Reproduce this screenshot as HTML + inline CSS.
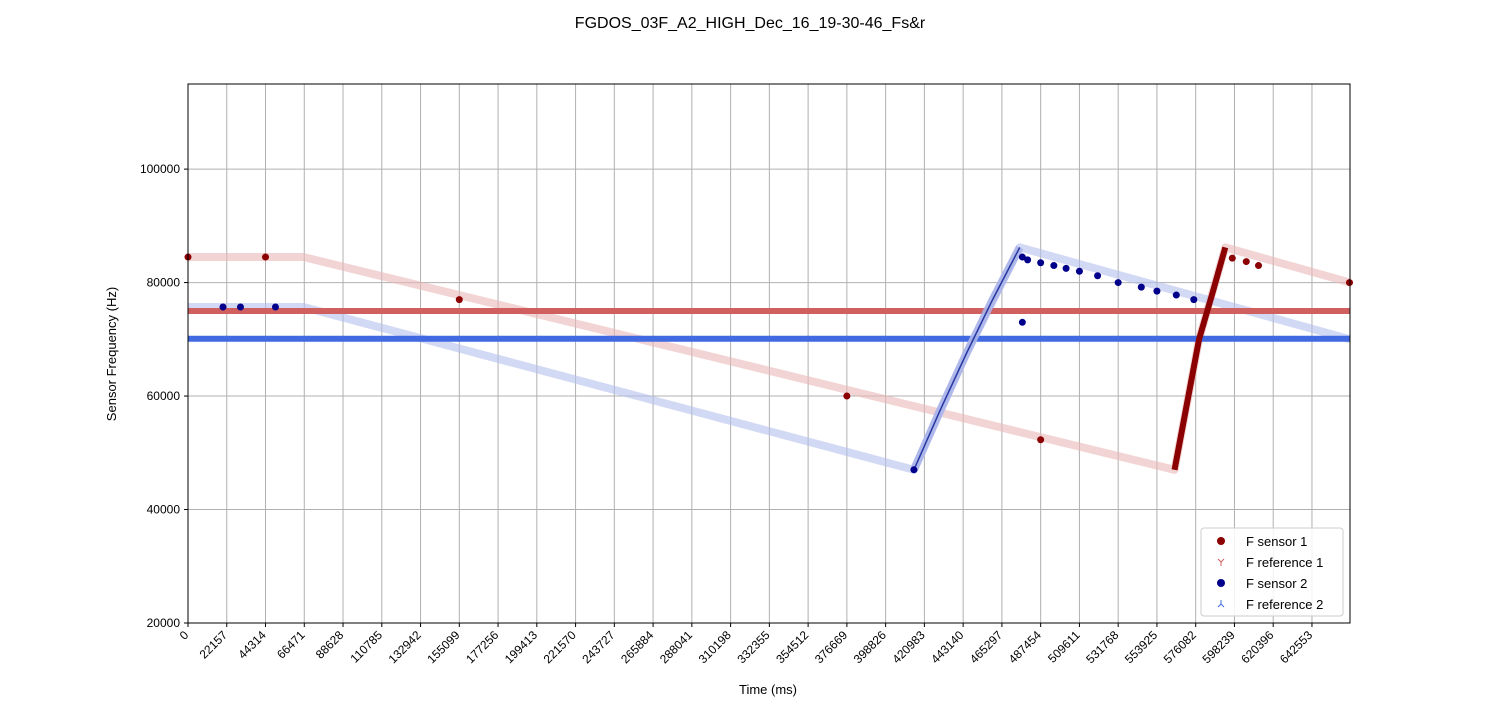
<!DOCTYPE html>
<html><head><meta charset="utf-8"><style>
body{margin:0;background:#fff;font-family:"Liberation Sans",sans-serif}
</style></head><body>
<svg id="c" width="1500" height="700" xmlns="http://www.w3.org/2000/svg" style="font-family:'Liberation Sans',sans-serif">
<text x="750" y="28" text-anchor="middle" font-size="16">FGDOS_03F_A2_HIGH_Dec_16_19-30-46_Fs&amp;r</text>
<g id="grid"></g><g id="marks"></g>
<rect x="188" y="84" width="1162" height="539" fill="none" stroke="#000" stroke-width="1"/>
<g id="axes"></g>
<text x="768" y="694" text-anchor="middle" font-size="13">Time (ms)</text>
<text transform="translate(116,354) rotate(-90)" text-anchor="middle" font-size="13">Sensor Frequency (Hz)</text>
<g>
<rect x="1201" y="528" width="142" height="88" rx="3" fill="#fff" fill-opacity="0.85" stroke="#ccc"/>
<circle cx="1221" cy="541" r="4" fill="#8b0000"/>
<text x="1246" y="546" font-size="13">F sensor 1</text>
<path d="M1221,562 v4 M1221,562 l-3,-3 M1221,562 l3,-3" stroke="#d06060" fill="none"/>
<text x="1246" y="567" font-size="13">F reference 1</text>
<circle cx="1221" cy="583" r="4" fill="#00008b"/>
<text x="1246" y="588" font-size="13">F sensor 2</text>
<path d="M1221,604 v-4 M1221,604 l-3,3 M1221,604 l3,3" stroke="#4169e1" fill="none"/>
<text x="1246" y="609" font-size="13">F reference 2</text>
</g>
</svg>
<script>
const yTicks=[20000,40000,60000,80000,100000];
const xTickStep=22157;
const xTickCount=30;
const ref1T=[0,664300];const ref1V=[75000,75000];
const ref2T=[0,664300];const ref2V=[70100,70100];
const env1T=[0,66000,564000,578000,593000,664300];
const env1V=[84500,84500,47000,70000,86200,80000];
const env2T=[0,66000,415000,445000,475500,664300];
const env2V=[75700,75700,47000,67500,86200,70000];
const rise1T=[564000,571000,578000,586000,593000];
const rise1V=[47000,58500,70000,78500,86200];
const rise2T=[415000,430000,445000,460000,475500];
const rise2V=[47000,57500,67500,77000,86200];
const dots1T=[0,44314,155099,376669,487454,597000,605000,612000,664000];
const dots1V=[84500,84500,77000,60000,52300,84300,83700,83000,80000];
const dots2T=[415000,477000,480000,487454,495000,502000,509611,520000,531768,545000,553925,565000,575000,477000,20000,30000,50000];
const dots2V=[47000,84500,84000,83500,83000,82500,82000,81200,80000,79200,78500,77800,77000,73000,75700,75700,75700];
const X=t=>188+t*(1162/664300);
const Y=v=>623-(v-20000)*(539/95000);
const NS="http://www.w3.org/2000/svg";
function mk(tag,attrs,parent){const e=document.createElementNS(NS,tag);for(const k in attrs)e.setAttribute(k,attrs[k]);parent.appendChild(e);return e;}
const grid=document.getElementById('grid'),axes=document.getElementById('axes'),marks=document.getElementById('marks');
for(let i=0;i<xTickCount;i++){const t=i*xTickStep,x=X(t);
 const g=mk('line',{x1:x,x2:x,y1:84,y2:623,stroke:'#b0b0b0','stroke-width':1},grid);
 
 mk('line',{x1:x,x2:x,y1:623,y2:627,stroke:'#000'},axes);
 const tx=mk('text',{x:x,y:633,'font-size':12,'text-anchor':'end',transform:`rotate(-45 ${x+4} 633)`},axes);
 tx.textContent=String(t);
 }
yTicks.forEach(v=>{const y=Y(v);
 const g=mk('line',{x1:188,x2:1350,y1:y,y2:y,stroke:'#b0b0b0'},grid);
 
 mk('line',{x1:184,x2:188,y1:y,y2:y,stroke:'#000'},axes);
 const tx=mk('text',{x:180,y:y+4,'font-size':12,'text-anchor':'end'},axes);tx.textContent=String(v);
 });
function line(T,V,color,w,op,name){const p=T.map((t,i)=>X(t)+','+Y(V[i])).join(' ');
 const e=mk('polyline',{points:p,fill:'none',stroke:color,'stroke-width':w,'stroke-opacity':op,'stroke-linejoin':'round'},marks);
 }
line(env1T,env1V,'#eab8b8',8,0.6,'reference-1-envelope');
line(env2T,env2V,'#b4bfec',8,0.6,'reference-2-envelope');
line(ref1T,ref1V,'#d06060',6,1,'reference-1-line');
line(ref2T,ref2V,'#4169e1',6,1,'reference-2-line');
line(rise1T,rise1V,'#8b0000',6,1,'sensor-1-rise');
line(rise2T,rise2V,'#aab4ea',8,0.9,'sensor-2-rise-band');
line(rise2T,rise2V,'#1a2a98',1.5,0.9,'sensor-2-rise');
dots1T.forEach((t,i)=>{const c=mk('circle',{cx:X(t),cy:Y(dots1V[i]),r:3.5,fill:'#8b0000'},marks);
 });
dots2T.forEach((t,i)=>{const c=mk('circle',{cx:X(t),cy:Y(dots2V[i]),r:3.5,fill:'#00008b'},marks);
 });
</script>
</body></html>
